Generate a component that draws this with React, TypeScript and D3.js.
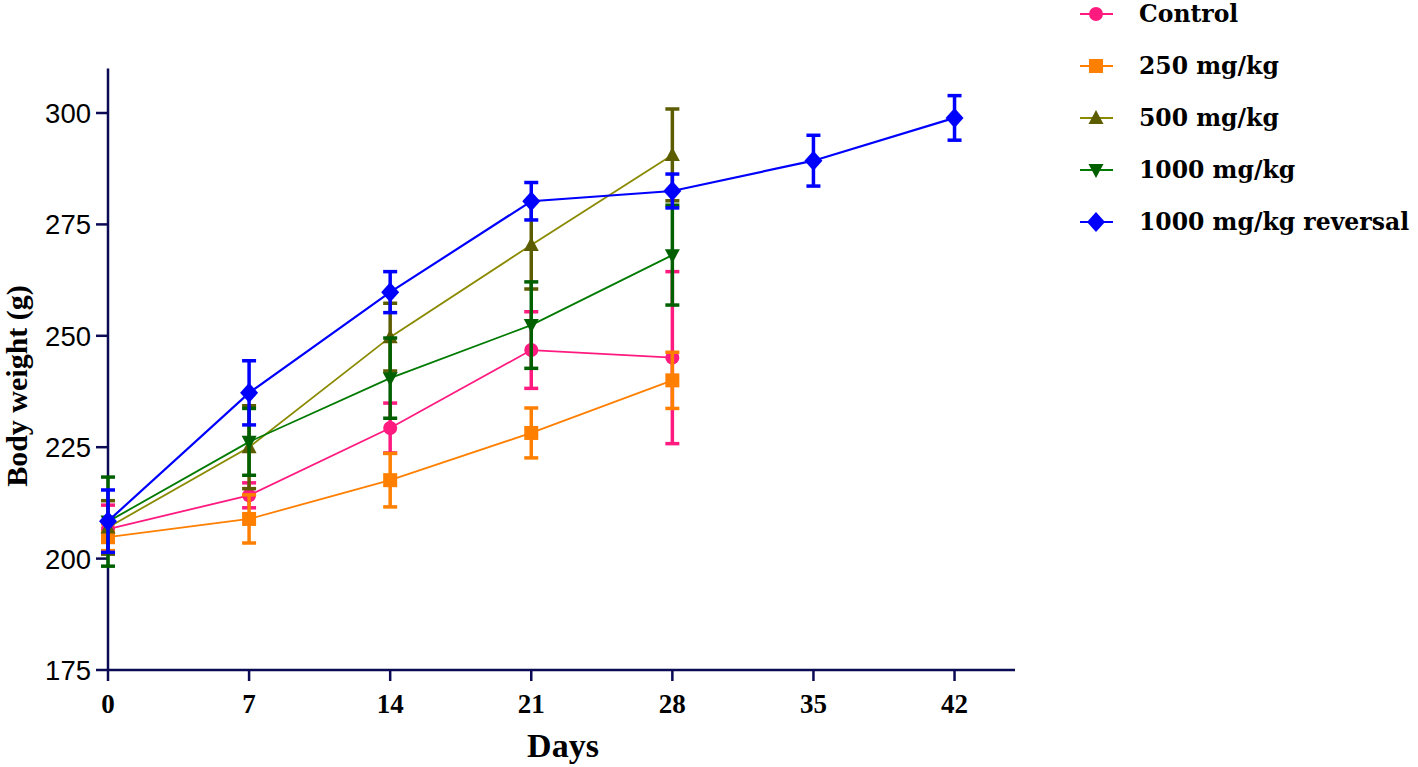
import React from "react";
import * as d3 from "d3";

const days = [0, 7, 14, 21, 28, 35, 42];
const xTicks = [0, 7, 14, 21, 28, 35, 42];
const yTicks = [175, 200, 225, 250, 275, 300];

const seriesNames = ["Control", "250 mg/kg", "500 mg/kg", "1000 mg/kg", "1000 mg/kg reversal"];
const controlMean = [206.6, 214.2, 229.3, 246.8, 245.1];
const controlSem = [5.4, 2.8, 5.6, 8.6, 19.3];
const d250Mean = [204.8, 208.9, 217.6, 228.2, 240.0];
const d250Sem = [3.0, 5.4, 6.0, 5.6, 6.3];
const d500Mean = [207.0, 225.0, 249.7, 270.4, 290.6];
const d500Sem = [6.0, 9.3, 7.6, 9.9, 10.3];
const d1000Mean = [208.3, 226.2, 240.5, 252.4, 268.1];
const d1000Sem = [10.0, 7.5, 9.0, 9.7, 11.2];
const revMean = [208.4, 237.2, 259.8, 280.2, 282.5, 289.3, 298.9];
const revSem = [7.0, 7.2, 4.6, 4.2, 3.8, 5.7, 5.0];

const colors = ["#ff1a80", "#ff7f00", "#8a8a00", "#007a00", "#0000ff"];
const markerColors = ["#ff1a80", "#ff7f00", "#5c5c00", "#006000", "#0000ff"];
const symbols = ["circle", "square", "triUp", "triDown", "diamond"];

const W = 1418, H = 767;
const x = d3.scaleLinear().domain([0, 45]).range([108, 1015]);
const y = d3.scaleLinear().domain([175, 300]).range([670, 113]);
const yTop = 310;
const axisColor = "#0a0a55";
const serif = "'Liberation Serif', 'Times New Roman', serif";
const sans = "'Liberation Sans', Arial, sans-serif";
const legendFont = "'DejaVu Serif', serif";

function Marker({ type, cx, cy, color }: { type: string; cx: number; cy: number; color: string }) {
  if (type === "circle") return <circle cx={cx} cy={cy} r={7} fill={color} />;
  if (type === "square") return <rect x={cx - 7} y={cy - 7} width={14} height={14} fill={color} />;
  if (type === "triUp")
    return <path d={`M${cx},${cy - 8}L${cx + 7.5},${cy + 6}L${cx - 7.5},${cy + 6}Z`} fill={color} />;
  if (type === "triDown")
    return <path d={`M${cx},${cy + 8}L${cx + 7.5},${cy - 6}L${cx - 7.5},${cy - 6}Z`} fill={color} />;
  return <path d={`M${cx},${cy - 10}L${cx + 9},${cy}L${cx},${cy + 10}L${cx - 9},${cy}Z`} fill={color} />;
}

export default function App() {
  const means = [controlMean, d250Mean, d500Mean, d1000Mean, revMean];
  const sems = [controlSem, d250Sem, d500Sem, d1000Sem, revSem];
  const line = d3
    .line<[number, number]>()
    .x((d) => x(d[0]))
    .y((d) => y(d[1]));

  return (
    <svg width={W} height={H} style={{ position: "absolute", left: 0, top: 0, background: "#fff" }}>
      {/* axes */}
      <line x1={x(0)} x2={x(0)} y1={y(yTop)} y2={y(175)} stroke={axisColor} strokeWidth={2.5} />
      <line x1={x(0) - 1} x2={x(45)} y1={y(175)} y2={y(175)} stroke={axisColor} strokeWidth={2.5} />
      {yTicks.map((t) => (
        <g key={"y" + t}>
          <line x1={x(0) - 12} x2={x(0)} y1={y(t)} y2={y(t)} stroke={axisColor} strokeWidth={2.5} />
          <text x={x(0) - 17} y={y(t)} dy="0.36em" textAnchor="end" fontFamily={sans} fontSize={27.5} fill="#000">
            {t}
          </text>
        </g>
      ))}
      {xTicks.map((t) => (
        <g key={"x" + t}>
          <line x1={x(t)} x2={x(t)} y1={y(175)} y2={y(175) + 11} stroke={axisColor} strokeWidth={2.5} />
          <text x={x(t)} y={704} dy="0.35em" textAnchor="middle" fontFamily={serif} fontWeight="bold" fontSize={27} fill="#000">
            {t}
          </text>
        </g>
      ))}
      <text x={563} y={746} dy="0.33em" textAnchor="middle" fontFamily={serif} fontWeight="bold" fontSize={34} fill="#000">
        Days
      </text>
      <text
        transform={`translate(27,386) rotate(-90)`}
        textAnchor="middle"
        fontFamily={serif}
        fontWeight="bold"
        fontSize={30}
        fill="#000"
      >
        Body weight (g)
      </text>

      {/* series */}
      {means.map((m, si) => {
        const pts: [number, number][] = m.map((v, i) => [days[i], v]);
        const c = colors[si];
        const mc = markerColors[si];
        return (
          <g key={"s" + si}>
            {pts.map((p, i) => {
              const px = x(p[0]);
              const top = y(p[1] + sems[si][i]);
              const bot = y(p[1] - sems[si][i]);
              return (
                <g key={"e" + i}>
                  <line x1={px} x2={px} y1={top} y2={bot} stroke={mc} strokeWidth={3.5} />
                  <line x1={px - 7} x2={px + 7} y1={top} y2={top} stroke={mc} strokeWidth={3.5} />
                  <line x1={px - 7} x2={px + 7} y1={bot} y2={bot} stroke={mc} strokeWidth={3.5} />
                </g>
              );
            })}
            <path d={line(pts) || ""} fill="none" stroke={c} strokeWidth={si === 4 ? 2.2 : 1.8} />
            {pts.map((p, i) => (
              <Marker key={"m" + i} type={symbols[si]} cx={x(p[0])} cy={y(p[1])} color={mc} />
            ))}
          </g>
        );
      })}

      {/* legend */}
      {seriesNames.map((n, i) => {
        const ly = 14 + i * 52;
        return (
          <g key={"l" + i}>
            <line x1={1080} x2={1113} y1={ly} y2={ly} stroke={colors[i]} strokeWidth={2} />
            <Marker type={symbols[i]} cx={1096} cy={ly} color={markerColors[i]} />
            <text x={1139} y={ly} dy="0.36em" fontFamily={legendFont} fontWeight="bold" fontSize={23.5} fill="#000">
              {n}
            </text>
          </g>
        );
      })}
    </svg>
  );
}
